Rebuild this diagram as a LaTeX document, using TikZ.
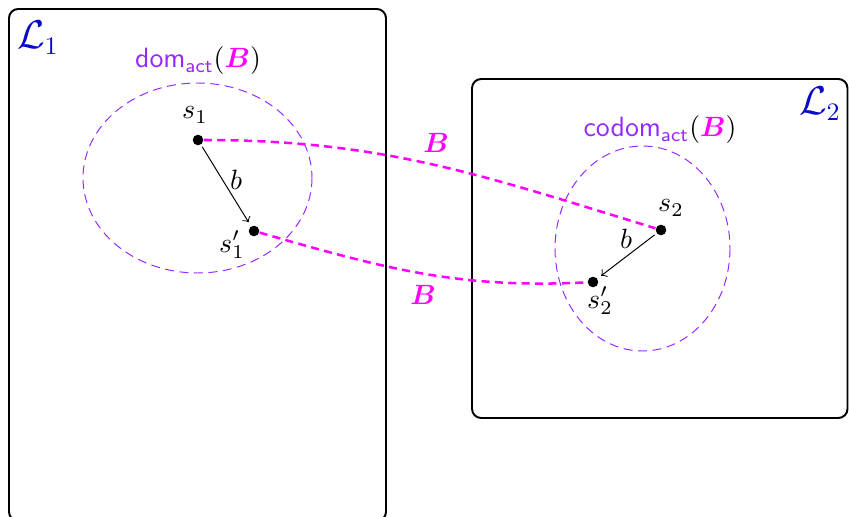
\documentclass[tikz,border=0pt]{standalone}
\usepackage{amsmath,bm}
\definecolor{elpurple}{RGB}{150,40,255}
\definecolor{lblue}{RGB}{10,10,200}
\definecolor{bmag}{RGB}{255,0,255}
\tikzset{
  px/.style={x=0.0126cm,y=-0.0126cm},
  world/.style={draw,line width=0.7pt,rounded corners=3.3pt},
  region/.style={draw=elpurple,dash pattern=on 3.2pt off 2pt,line width=0.35pt},
  state/.style={circle,fill=black,inner sep=0pt,minimum size=3.8pt},
  bline/.style={draw=bmag,line width=0.9pt,dash pattern=on 2.9pt off 1.9pt},
  act/.style={->,line width=0.35pt,shorten >=1.6pt,shorten <=0.8pt},
  wlabel/.style={lblue,font=\fontsize{13.5}{16}\selectfont},
}
\begin{document}
\begin{tikzpicture}[px]
\useasboundingbox (0,0) rectangle (849,517);
% worlds
\draw[world] (9,9) rectangle (386,521);
\draw[world] (472,79) rectangle (847.5,418);
\node[wlabel] (L1) at (38,38) {$\mathcal{L}_1$};
\node[wlabel] (L2) at (820,104) {$\mathcal{L}_2$};
% regions
\draw[region] (197.5,178) ellipse [x radius=114.5, y radius=95];
\draw[region] (642.5,248.5) ellipse [x radius=87.5, y radius=102.5];
\node (dom) at (198,61) {\textcolor{elpurple}{$\mathsf{dom}_{\mathsf{act}}$}$(\textcolor{bmag}{\bm{B}})$};
\node (codom) at (660,130) {\textcolor{elpurple}{$\mathsf{codom}_{\mathsf{act}}$}$(\textcolor{bmag}{\bm{B}})$};
% states
\node[state] (s1) at (198,140) {};
\node[state] (s1p) at (254,231) {};
\node[state] (s2) at (661,230) {};
\node[state] (s2p) at (593,282) {};
\node (ls1) at (195,115) {$s_1$};
\node (ls1p) at (232,245) {$s_1'$};
\node (ls2) at (671,208) {$s_2$};
\node (ls2p) at (600,301) {$s_2'$};
% actions
\draw[act] (s1) -- (s1p);
\draw[act] (s2) -- (s2p);
\node (b1) at (236,180) {$b$};
\node (b2) at (626,239) {$b$};
% B links
\draw[bline] (s1) to[out=0,in=163] (s2);
\draw[bline] (s1p) to[out=-16,in=183] (s2p);
\node[bmag] (B1) at (436,143) {$\bm{B}$};
\node[bmag] (B2) at (423,295) {$\bm{B}$};
\end{tikzpicture}
\end{document}
